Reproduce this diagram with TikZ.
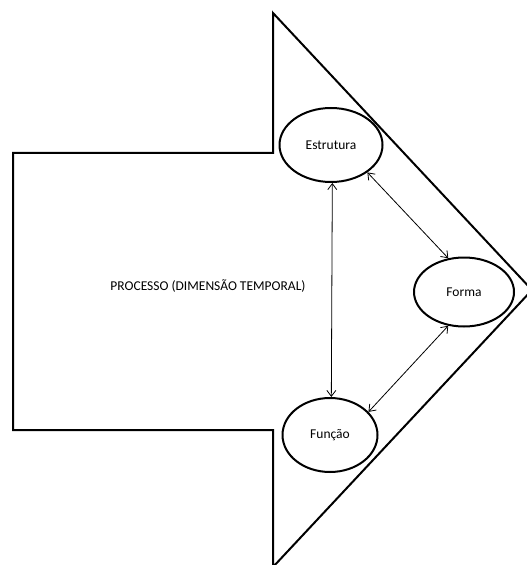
\documentclass[tikz,border=0pt]{standalone}
\usepackage{fontspec}
\setmainfont{Carlito}
\usetikzlibrary{shapes.geometric,arrows.meta}
\begin{document}
\begin{tikzpicture}[x=1bp,y=-1bp,
  outline/.style={draw=black,line width=2bp,line join=miter},
  oval/.style={ellipse,draw=black,line width=2bp,inner sep=0pt,font=\fontsize{13.5bp}{16bp}\selectfont},
  link/.style={draw=black,line width=0.8bp,{Straight Barb[length=6bp,width=9bp]}-{Straight Barb[length=6bp,width=9bp]}},
  lbl/.style={font=\fontsize{13.5bp}{16bp}\selectfont,inner sep=0pt}]
\useasboundingbox (0,0) rectangle (527,565);
\clip (0,0) rectangle (527,565);
\draw[outline] (13,153) -- (273,153) -- (273,13) -- (532,290) -- (273,567) -- (273,430) -- (13,430) -- cycle;
\node[lbl] (proc) at (208,286) {PROCESSO (DIMENSÃO TEMPORAL)};
\node[oval,minimum width=103bp,minimum height=74bp] (est) at (331,145) {Estrutura};
\node[oval,minimum width=100bp,minimum height=69bp] (for) at (464,292) {Forma};
\node[oval,minimum width=95bp,minimum height=74bp] (fun) at (330,435) {Função};
\draw[link] (est.-88) -- (fun.88);
\draw[link] (est.-37) -- (for.115);
\draw[link] (for.-115) -- (fun.31);
\end{tikzpicture}
\end{document}
